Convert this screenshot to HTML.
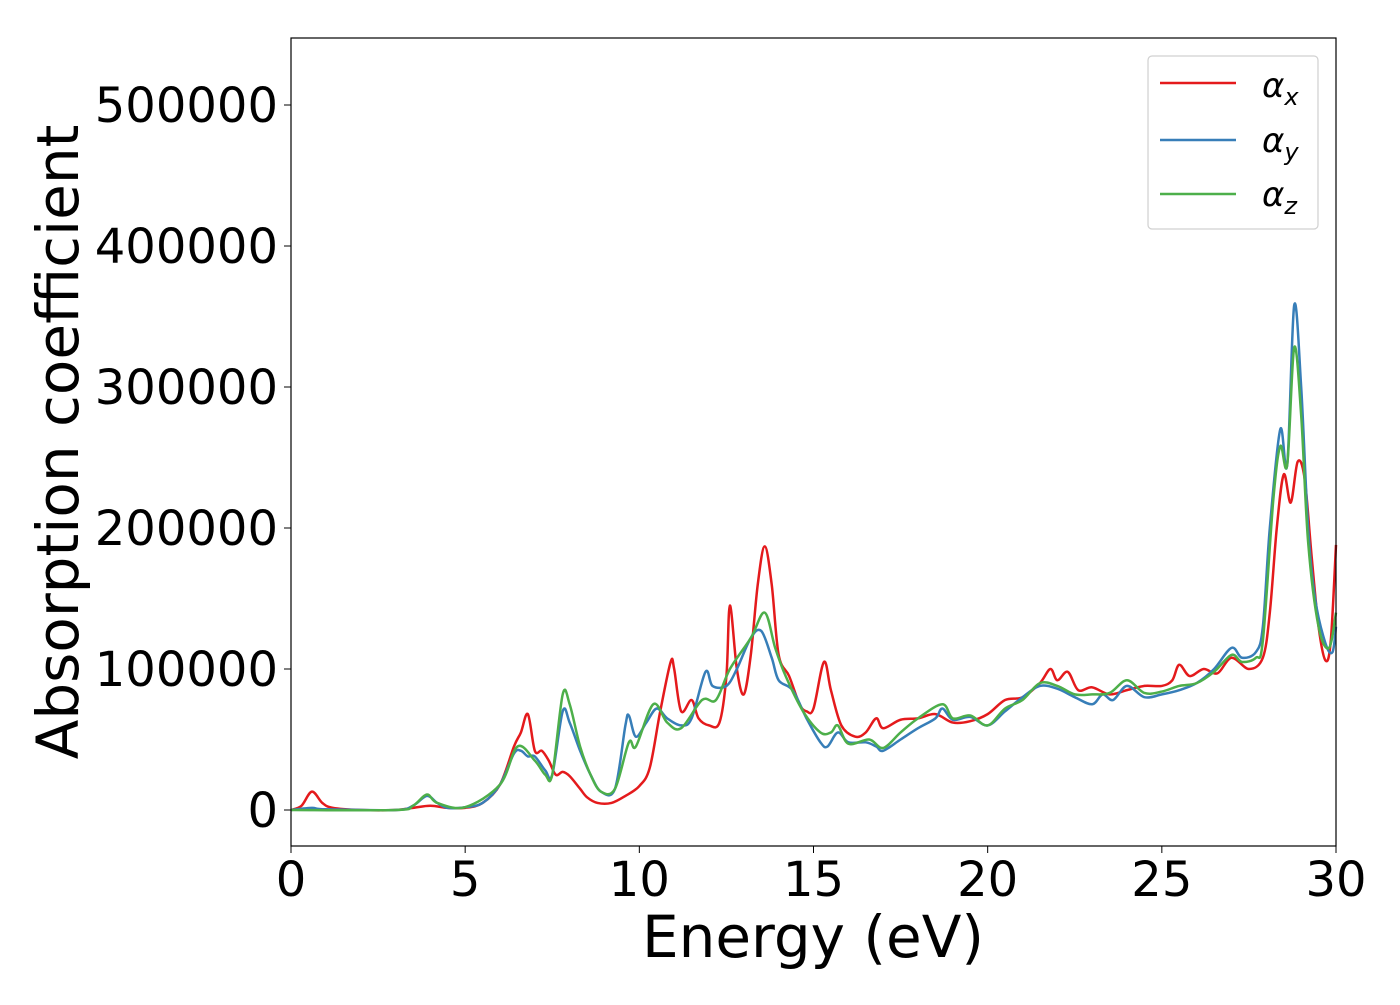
<!DOCTYPE html>
<html><head><meta charset="utf-8"><style>
body{margin:0;background:#fff;}
svg{font-family:"DejaVu Sans","Liberation Sans",sans-serif;}
</style></head><body>
<svg id="chart" width="1400" height="1000" viewBox="0 0 1400 1000" xmlns="http://www.w3.org/2000/svg">
<rect width="1400" height="1000" fill="#fff"/>
<g id="series"></g>
<rect x="291" y="38" width="1045" height="808" fill="none" stroke="#000" stroke-width="1.2"/>
<g id="xticks"></g>
<g id="yticks"></g>
<text x="813" y="957" font-size="58" text-anchor="middle">Energy (eV)</text>
<text transform="translate(78,442) rotate(-90)" font-size="58" text-anchor="middle">Absorption coefficient</text>
<g>
<rect x="1148" y="56" width="170" height="173" rx="4" fill="#fff" stroke="#ccc" stroke-width="1.2" opacity="0.9"/>
<line x1="1160" y1="83" x2="1236" y2="83" stroke="#e41a1c" stroke-width="2.5"/>
<text x="1262" y="97" font-size="34" font-style="italic">α<tspan font-size="24" dy="8">x</tspan></text>
<line x1="1160" y1="140" x2="1236" y2="140" stroke="#377eb8" stroke-width="2.5"/>
<text x="1262" y="152" font-size="34" font-style="italic">α<tspan font-size="24" dy="8">y</tspan></text>
<line x1="1160" y1="194" x2="1236" y2="194" stroke="#4daf4a" stroke-width="2.5"/>
<text x="1262" y="206" font-size="34" font-style="italic">α<tspan font-size="24" dy="8">z</tspan></text>
</g>
</svg>
<script>
const xTicks=[0,5,10,15,20,25,30];
const yTicks=[0,100000,200000,300000,400000,500000];
const xE=[0,0.3,0.6,0.9,1.2,2,3,3.5,4,4.5,5,5.5,6,6.4,6.6,6.8,7.0,7.2,7.4,7.6,7.8,8.0,8.3,8.5,8.8,9.2,9.6,10,10.3,10.6,10.9,11.0,11.2,11.5,11.7,12.0,12.3,12.5,12.6,12.8,13.0,13.2,13.4,13.6,13.8,14.0,14.3,14.6,14.8,15.0,15.3,15.5,15.8,16.2,16.5,16.8,17.0,17.5,18,18.5,19,19.5,20,20.5,21,21.5,21.8,22,22.3,22.6,23,23.5,24,24.5,25,25.3,25.5,25.8,26.2,26.6,27,27.5,27.9,28.1,28.3,28.5,28.7,28.9,29.1,29.3,29.5,29.7,29.85,30];
const xV=[0,3000,13000,5000,1500,0,0,1500,3000,1500,1500,5000,18000,45000,55000,68000,42000,42000,35000,25000,27000,24000,15000,9000,5000,5000,10000,17000,30000,70000,105000,100000,70000,78000,65000,60000,62000,95000,145000,100000,82000,110000,160000,187000,160000,110000,95000,75000,70000,72000,105000,85000,60000,52000,55000,65000,58000,64000,65000,68000,62000,63000,68000,78000,80000,90000,100000,92000,98000,85000,87000,82000,85000,88000,88000,92000,103000,95000,100000,97000,108000,100000,108000,140000,200000,238000,218000,247000,235000,180000,130000,106000,120000,188000];
const yE=[0,0.6,1,3,3.5,3.9,4.2,4.5,5,5.5,6,6.4,6.6,6.8,7.0,7.3,7.5,7.8,8.0,8.3,8.6,8.9,9.3,9.6,9.7,9.9,10.2,10.5,10.8,11.2,11.5,11.9,12.1,12.5,12.8,13.2,13.5,13.8,14.0,14.4,14.8,15.2,15.4,15.7,16.0,16.5,16.8,17.0,17.5,18,18.5,18.7,19,19.5,20,20.5,21,21.5,22,22.5,23,23.3,23.6,24,24.5,25,25.5,26,26.5,27,27.3,27.7,27.9,28.1,28.4,28.6,28.8,29.0,29.2,29.4,29.7,29.9,30];
const yV=[0,1500,500,0,3000,10000,5000,1500,2000,5000,18000,40000,42000,38000,38000,28000,25000,70000,62000,42000,25000,13000,15000,60000,67000,52000,62000,72000,65000,60000,65000,98000,88000,88000,100000,122000,127000,108000,92000,85000,65000,48000,45000,55000,48000,48000,45000,42000,50000,58000,65000,72000,64000,66000,60000,70000,80000,88000,86000,80000,75000,82000,78000,88000,80000,82000,85000,90000,100000,115000,108000,112000,130000,200000,270000,245000,358000,300000,200000,150000,118000,112000,130000];
const zE=[0,3,3.5,3.9,4.2,5,6,6.5,7.0,7.3,7.5,7.8,8.0,8.3,8.6,8.9,9.3,9.7,9.9,10.4,10.8,11.2,11.8,12.2,12.6,13.2,13.6,13.9,14.2,14.7,15.2,15.5,15.7,16,16.6,17,17.5,18,18.7,19,19.5,20,20.5,21,21.5,22,22.5,23,23.5,24,24.5,25,25.5,26,26.5,27,27.3,27.7,27.9,28.2,28.4,28.6,28.8,29.0,29.2,29.5,29.8,30];
const zV=[0,0,3000,11000,5000,2000,18000,45000,35000,25000,25000,82000,75000,45000,25000,13000,15000,48000,45000,75000,62000,58000,78000,78000,100000,122000,140000,115000,95000,70000,55000,55000,60000,47000,50000,44000,55000,65000,75000,65000,67000,60000,72000,78000,90000,88000,82000,82000,83000,92000,83000,84000,88000,90000,98000,110000,105000,108000,120000,220000,258000,245000,328000,280000,190000,130000,115000,140000];
const NS="http://www.w3.org/2000/svg";
const X=v=>291+v*(1045/30);
const Y=v=>810-v*(141/100000);
function path(E,V){
  const p=E.map((e,i)=>[X(e),Y(V[i])]);
  let d="M"+p[0][0]+","+p[0][1];
  for(let i=0;i<p.length-1;i++){
    const a=p[Math.max(0,i-1)],b=p[i],c=p[i+1],e=p[Math.min(p.length-1,i+2)];
    const c1x=b[0]+(c[0]-a[0])/6,c1y=b[1]+(c[1]-a[1])/6,c2x=c[0]-(e[0]-b[0])/6,c2y=c[1]-(e[1]-b[1])/6;
    d+=` C${c1x},${c1y} ${c2x},${c2y} ${c[0]},${c[1]}`;
  }
  return d;
}
const g=document.getElementById('series');
[[xE,xV,'#e41a1c','line-alpha-x'],[yE,yV,'#377eb8','line-alpha-y'],[zE,zV,'#4daf4a','line-alpha-z']].forEach(s=>{
  const el=document.createElementNS(NS,'path');
  el.setAttribute('d',path(s[0],s[1]));
  el.setAttribute('fill','none');el.setAttribute('stroke',s[2]);el.setAttribute('stroke-width','2.5');
  
  
  g.appendChild(el);
});
const xt=document.getElementById('xticks');
xTicks.forEach(t=>{
  const l=document.createElementNS(NS,'line');
  l.setAttribute('x1',X(t));l.setAttribute('x2',X(t));l.setAttribute('y1',846);l.setAttribute('y2',853);l.setAttribute('stroke','#000');
  
  
  xt.appendChild(l);
  const tx=document.createElementNS(NS,'text');
  tx.setAttribute('x',X(t));tx.setAttribute('y',896);tx.setAttribute('font-size','48');tx.setAttribute('text-anchor','middle');
  tx.textContent=t;
  
  
  xt.appendChild(tx);
});
const yt=document.getElementById('yticks');
yTicks.forEach(t=>{
  const l=document.createElementNS(NS,'line');
  l.setAttribute('x1',284);l.setAttribute('x2',291);l.setAttribute('y1',Y(t));l.setAttribute('y2',Y(t));l.setAttribute('stroke','#000');
  
  
  yt.appendChild(l);
  const tx=document.createElementNS(NS,'text');
  tx.setAttribute('x',278);tx.setAttribute('y',Y(t)+17);tx.setAttribute('font-size','48');tx.setAttribute('text-anchor','end');
  tx.textContent=t;
  
  
  yt.appendChild(tx);
});
</script>
</body></html>
